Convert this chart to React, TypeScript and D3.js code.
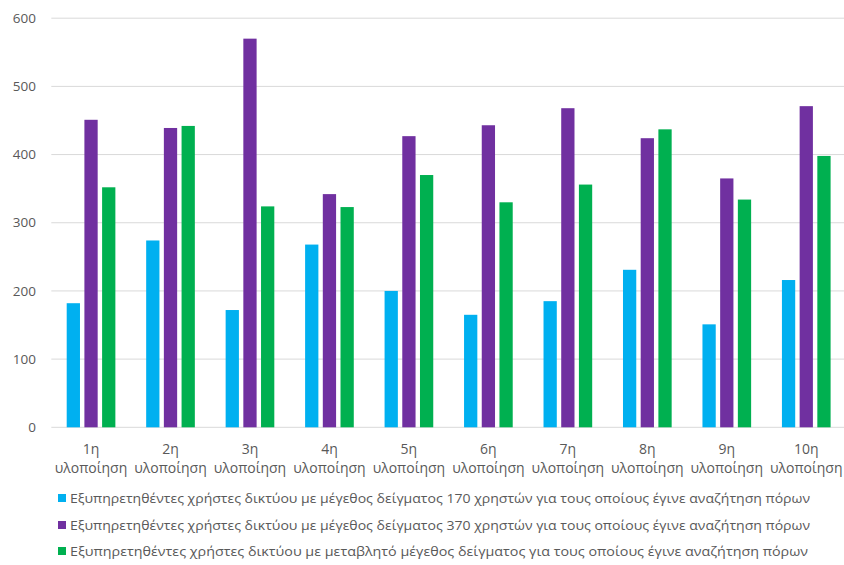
import React from "react";
import * as d3 from "d3";

const categories = ["1η", "2η", "3η", "4η", "5η", "6η", "7η", "8η", "9η", "10η"];
const seriesNames = [
  "Εξυπηρετηθέντες χρήστες δικτύου με μέγεθος δείγματος 170 χρηστών για τους οποίους έγινε αναζήτηση πόρων",
  "Εξυπηρετηθέντες χρήστες δικτύου με μέγεθος δείγματος 370 χρηστών για τους οποίους έγινε αναζήτηση πόρων",
  "Εξυπηρετηθέντες χρήστες δικτύου με μεταβλητό μέγεθος δείγματος για τους οποίους έγινε αναζήτηση πόρων",
];
const s170 = [182, 274, 172, 268, 200, 165, 185, 231, 151, 216];
const s370 = [451, 439, 570, 342, 427, 443, 468, 424, 365, 471];
const sVar = [352, 442, 324, 323, 370, 330, 356, 437, 334, 398];
const yTicks = [0, 100, 200, 300, 400, 500, 600];
const colors = ["#00B0F0", "#7030A0", "#00B050"];

export default function App() {
  const W = 844, H = 565;
  const left = 51.3, right = 846, top = 18.2, bottom = 427.3;
  const series = [s170, s370, sVar];
  const x0 = d3.scaleBand<string>().domain(categories).range([left, right]).padding(0);
  const groupPad = 15.4;
  const x1 = d3.scaleBand<number>().domain([0, 1, 2])
    .range([groupPad, x0.bandwidth() - groupPad]).paddingInner(0.25).paddingOuter(0);
  const y = d3.scaleLinear().domain([0, 600]).range([bottom, top]);
  const textColor = "#595959";
  const font = "'Open Sans', 'Noto Sans', sans-serif";
  const legendY = [503, 530, 556];
  const legendLen = [740, 740, 738];
  return (
    <svg width={W} height={H} style={{ position: "absolute", left: 0, top: 0, background: "#fff" }}
      fontFamily={font}>
      <rect x={0} y={0} width={W} height={H} fill="#fff" />
      {yTicks.map((t) => (
        <g key={t}>
          <line x1={left} x2={W} y1={y(t)} y2={y(t)} stroke="#d9d9d9" strokeWidth={1} />
          <text x={36} y={y(t)} dy="0.35em" textAnchor="end" fontSize={13.5} fill={textColor}>{t}</text>
        </g>
      ))}
      {categories.map((c, i) => (
        <g key={c} transform={`translate(${x0(c)},0)`}>
          {series.map((s, k) => (
            <rect key={k} x={x1(k)} width={x1.bandwidth()} y={y(s[i])} height={y(0) - y(s[i])} fill={colors[k]} />
          ))}
          <text x={x0.bandwidth() / 2} y={454} textAnchor="middle" fontSize={14} fill={textColor}>{c}</text>
          <text x={x0.bandwidth() / 2} y={472.5} textAnchor="middle" fontSize={14} fill={textColor}>υλοποίηση</text>
        </g>
      ))}
      {seriesNames.map((n, k) => (
        <g key={k}>
          <rect x={58} y={legendY[k] - 9} width={8} height={8} fill={colors[k]} />
          <text x={70} y={legendY[k]} fontSize={13.5} fill={textColor} textLength={legendLen[k]}
            lengthAdjust="spacingAndGlyphs">{n}</text>
        </g>
      ))}
    </svg>
  );
}
